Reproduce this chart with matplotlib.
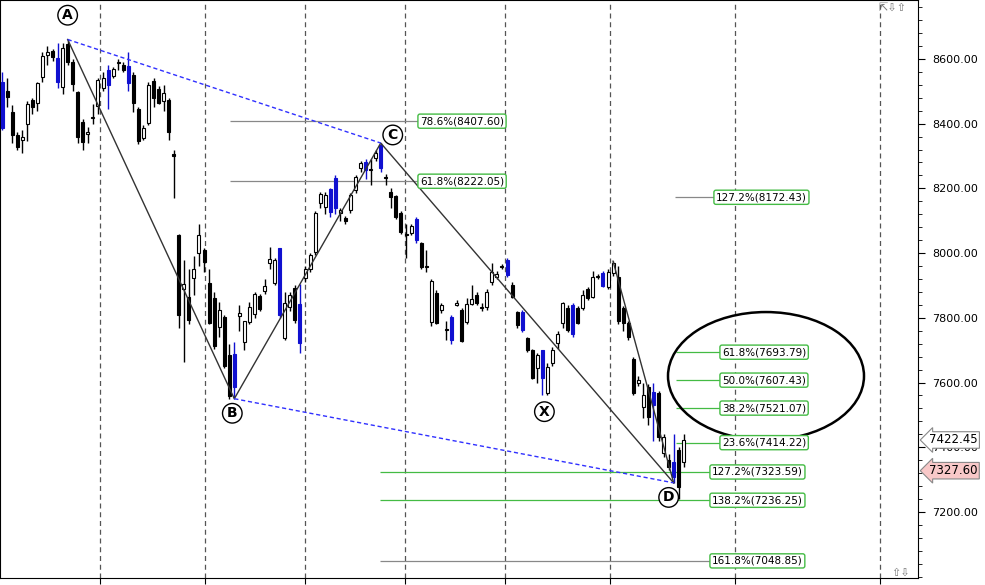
import matplotlib
matplotlib.use("Agg")
import matplotlib.pyplot as plt
from matplotlib.patches import Ellipse
from matplotlib.ticker import MultipleLocator

# (open, high, low, close, colour) ; w=white, b=black, u=blue
candles = [
(8387,8560,8380,8530,'u'),(8500,8540,8450,8483,'b'),(8436,8458,8340,8365,'b'),(8365,8375,8320,8328,'b'),
(8350,8380,8310,8360,'w'),(8400,8470,8345,8461,'w'),(8473,8480,8430,8452,'b'),(8464,8530,8440,8525,'w'),
(8544,8620,8530,8609,'w'),(8612,8640,8580,8621,'w'),(8625,8630,8595,8606,'b'),(8603,8650,8510,8529,'u'),
(8513,8650,8490,8634,'w'),(8646,8660,8580,8590,'b'),(8590,8600,8500,8523,'b'),(8498,8500,8340,8359,'b'),
(8405,8415,8320,8343,'b'),(8368,8390,8340,8374,'w'),(8418,8460,8400,8420,'w'),(8455,8540,8430,8535,'w'),
(8510,8560,8500,8541,'w'),(8566,8580,8445,8520,'u'),(8547,8575,8540,8569,'w'),(8588,8600,8565,8590,'w'),
(8581,8590,8560,8566,'b'),(8578,8620,8500,8526,'u'),(8550,8560,8435,8464,'b'),(8445,8450,8336,8347,'b'),
(8356,8395,8350,8387,'w'),(8402,8530,8395,8520,'w'),(8532,8540,8450,8480,'b'),(8507,8515,8460,8464,'b'),
(8470,8520,8440,8495,'w'),(8473,8480,8350,8374,'b'),(8306,8320,8170,8300,'b'),
(8056,8060,7768,7809,'b'),(7890,7980,7664,7905,'w'),(7865,7950,7780,7793,'b'),(7923,7990,7870,7951,'w'),
(8000,8090,7960,8056,'w'),(8010,8015,7940,7973,'b'),(7908,7950,7780,7784,'b'),(7862,7880,7705,7713,'b'),
(7772,7850,7740,7824,'w'),(7803,7810,7645,7651,'b'),(7685,7720,7550,7558,'b'),(7586,7725,7550,7688,'u'),
(7806,7840,7760,7816,'w'),(7725,7790,7700,7790,'w'),(7788,7850,7780,7834,'w'),(7812,7880,7800,7874,'w'),
(7868,7875,7820,7827,'b'),(7883,7920,7875,7898,'w'),(7970,8020,7950,7982,'w'),(7908,7985,7900,7979,'w'),
(7809,8016,7800,8016,'u'),(7738,7880,7730,7846,'w'),(7834,7880,7820,7871,'w'),(7892,7900,7785,7793,'b'),
(7722,7905,7690,7843,'u'),(7923,7960,7910,7951,'w'),(7951,8000,7940,7994,'w'),(8004,8130,7995,8124,'w'),
(8155,8190,8140,8183,'w'),(8143,8190,8120,8180,'w'),(8127,8200,8110,8198,'u'),(8140,8240,8120,8232,'u'),
(8124,8140,8100,8133,'w'),(8109,8115,8090,8099,'b'),(8133,8185,8125,8180,'w'),(8195,8240,8185,8235,'w'),
(8263,8285,8250,8279,'w'),(8257,8290,8230,8282,'u'),(8258,8290,8210,8260,'w'),(8294,8320,8285,8310,'w'),
(8263,8340,8250,8334,'u'),(8232,8245,8210,8232,'b'),(8189,8200,8140,8173,'b'),(8177,8180,8105,8112,'b'),
(8124,8130,8060,8065,'b'),(8056,8090,7985,8056,'b'),(8062,8090,8055,8084,'w'),(8041,8110,8030,8106,'u'),
(8031,8035,7950,7957,'b'),(7957,8010,7940,7957,'b'),(7787,7920,7775,7914,'w'),(7877,7885,7780,7784,'b'),
(7824,7845,7815,7840,'w'),(7762,7790,7730,7762,'b'),(7732,7810,7720,7803,'u'),(7840,7855,7835,7846,'w'),
(7824,7830,7725,7729,'b'),(7787,7860,7780,7843,'w'),(7843,7900,7840,7858,'w'),(7871,7880,7840,7846,'b'),
(7830,7845,7820,7834,'w'),(7834,7890,7825,7880,'w'),(7911,7970,7900,7942,'w'),(7926,7945,7920,7936,'w'),
(7957,7965,7950,7957,'b'),(7933,7985,7925,7979,'u'),(7902,7910,7860,7865,'b'),(7818,7822,7770,7778,'b'),
(7762,7825,7755,7818,'u'),(7738,7742,7695,7701,'b'),(7701,7705,7610,7614,'b'),(7645,7690,7600,7685,'w'),
(7614,7701,7560,7701,'u'),(7568,7660,7560,7648,'w'),(7660,7710,7650,7701,'w'),(7722,7760,7705,7750,'w'),
(7784,7850,7770,7846,'w'),(7830,7840,7755,7762,'b'),(7750,7845,7740,7840,'u'),(7830,7835,7780,7784,'b'),
(7830,7885,7825,7871,'w'),(7889,7895,7855,7861,'b'),(7865,7945,7860,7926,'w'),(7925,7935,7920,7929,'w'),
(7899,7945,7895,7939,'u'),(7896,7950,7890,7942,'w'),(7939,7975,7930,7970,'w'),(7926,7960,7780,7790,'b'),
(7830,7835,7760,7784,'b'),(7784,7790,7730,7741,'b'),(7673,7680,7560,7568,'b'),(7600,7620,7590,7608,'w'),
(7525,7600,7490,7562,'w'),(7586,7595,7470,7494,'b'),(7530,7600,7420,7570,'u'),(7568,7575,7420,7432,'b'),
(7383,7440,7370,7432,'w'),(7361,7380,7330,7340,'b'),(7308,7440,7290,7355,'u'),(7392,7400,7240,7278,'b'),
(7355,7440,7340,7423,'w'),
]
fib_left_vals = [8407.60, 8222.05]
fib_left_labels = ["78.6%(8407.60)", "61.8%(8222.05)"]
fib_ret_vals = [7693.79, 7607.43, 7521.07, 7414.22]
fib_ret_labels = ["61.8%(7693.79)", "50.0%(7607.43)", "38.2%(7521.07)", "23.6%(7414.22)"]
ext_val, ext_label = 8172.43, "127.2%(8172.43)"
fib_low_vals = [7323.59, 7236.25, 7048.85]
fib_low_labels = ["127.2%(7323.59)", "138.2%(7236.25)", "161.8%(7048.85)"]
yticks = [7200, 7400, 7600, 7800, 8000, 8200, 8400, 8600]
tag_vals = [7422.45, 7327.60]
vlines_px = [100, 205, 305, 405, 505, 610, 735, 880]

fig = plt.figure(figsize=(9.85, 5.85), dpi=100)
ax = fig.add_axes([0, 7/585, 918/985, 578/585])
ax.set_xlim(0, 918)
ax.set_ylim(6996, 8782)
cols = {'w': 'white', 'b': 'black', 'u': '#1010d0'}
for i, (o, h, l, c, k) in enumerate(candles):
    x = 2 + 5.05 * i
    ec = '#1010d0' if k == 'u' else 'black'
    ax.vlines(x, l, h, color=ec, lw=1, zorder=3)
    lo, hi = min(o, c), max(o, c)
    ax.bar(x, max(hi - lo, 3), bottom=lo, width=3, color=cols[k], edgecolor=ec, lw=0.8, zorder=4)

for v in vlines_px:
    ax.axvline(v, color='#555555', ls=(0, (4, 3)), lw=0.9, zorder=1)

def px(i):
    return 2 + 5.05 * i
A = (px(13), candles[13][1]); B = (px(46), candles[46][2]); C = (px(75), candles[75][1])
D = (px(133), candles[133][2]); X = (px(108), candles[108][2]); top = (px(121), candles[121][1])
ax.plot([A[0], B[0], C[0], D[0]], [A[1], B[1], C[1], D[1]], color='#333333', lw=1, zorder=5)
ax.plot([top[0], D[0]], [top[1], D[1]], color='#333333', lw=1, zorder=5)
ax.plot([A[0], C[0]], [A[1], C[1]], color='#3030ff', ls=(0, (3, 2)), lw=1, zorder=5)
ax.plot([B[0], D[0]], [B[1], D[1]], color='#3030ff', ls=(0, (3, 2)), lw=1, zorder=5)

def circ(x, y, t):
    ax.text(x, y, t, ha='center', va='center', fontsize=10, fontweight='bold', zorder=7,
            bbox=dict(boxstyle='circle,pad=0.2', fc='white', ec='black', lw=1))
circ(A[0], A[1] + 75, 'A'); circ(B[0] - 2, B[1] - 45, 'B'); circ(C[0] + 12, C[1] + 25, 'C')
circ(X[0] - 3, X[1] - 50, 'X'); circ(D[0] - 5, D[1] - 45, 'D')

def lab(x, y, t):
    ax.text(x, y, t, ha='left', va='center', fontsize=7.5, zorder=7,
            bbox=dict(boxstyle='round,pad=0.2', fc='white', ec='#44bb44', lw=1))

for v, t in zip(fib_left_vals, fib_left_labels):
    ax.hlines(v, 230, 420, color='#888888', lw=0.9, zorder=2)
    lab(420, v, t)
ax.hlines(ext_val, 675, 715, color='#888888', lw=0.9)
lab(716, ext_val, ext_label)
for v, t in zip(fib_ret_vals, fib_ret_labels):
    ax.hlines(v, 676, 720, color='#44bb44', lw=0.9)
    lab(722, v, t)
for j, (v, t) in enumerate(zip(fib_low_vals, fib_low_labels)):
    ax.hlines(v, 380, 712, color='#888888' if j == 2 else '#44bb44', lw=0.9, zorder=2)
    lab(712, v, t)
ax.add_patch(Ellipse((766, 7620), 196, 128 / 0.3236, fill=False, ec='black', lw=1.8, zorder=6))

ax.yaxis.tick_right()
ax.set_yticks(yticks)
ax.set_yticklabels([f"{v:.2f}" for v in yticks], fontsize=8)
ax.yaxis.set_minor_locator(MultipleLocator(40))
ax.tick_params(axis='y', which='major', length=5, pad=5)
ax.tick_params(axis='y', which='minor', length=3)
ax.set_xticks(vlines_px)
ax.set_xticklabels([])
ax.tick_params(axis='x', length=4, direction='out')
for v, fc in zip(tag_vals, ['white', '#f8c8c8']):
    ax.text(1.012, (v - 6996) / (8782 - 6996), f"{v:.2f}", transform=ax.transAxes, fontsize=8.5,
            ha='left', va='center', zorder=10,
            bbox=dict(boxstyle='larrow,pad=0.15', fc=fc, ec='#888888', lw=0.8))
fig.text(0.892, 0.982, "⇱⇩⇧", fontsize=8, color='#777777')
fig.text(0.905, 0.015, "⇧⇩", fontsize=8, color='#777777')
fig.savefig("out.png", dpi=100)
